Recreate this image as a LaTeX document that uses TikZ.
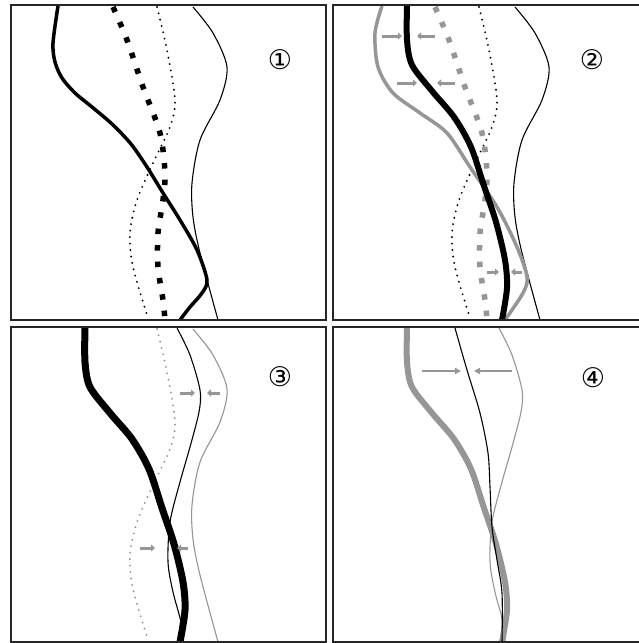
\documentclass[tikz,border=0pt]{standalone}
\usepackage{fontspec}
\newfontfamily\circfont{DejaVu Sans}
\usetikzlibrary{arrows.meta}
\definecolor{lgray}{RGB}{150,150,150}
\tikzset{
  frame/.style={draw=black!85,line width=1.6},
  thinline/.style={line width=1.1},
  thindot/.style={line width=2.1,dash pattern=on 0pt off 6.5pt,line cap=round},
  sqdot/.style={line width=5.5,dash pattern=on 5.5pt off 11pt},
  thickline/.style={line width=3.5},
  vthick/.style={line width=6},
  garrow/.style={draw=lgray,line width=3,-{Triangle[length=4pt,width=7pt]}},
  garrowthin/.style={draw=lgray,line width=2,-{Triangle[length=6pt,width=6pt]}},
  numlabel/.style={font=\circfont\fontsize{27}{27}\selectfont,inner sep=0pt}
}
\def\curveS{(193,7) (213,33) (227,67) (220,100) (200,140) (192,183) (193,217) (200,253) (218,320)}
\def\curveD{(157,7) (167,50) (175,100) (170,127) (153,163) (137,200) (130,233) (133,267) (148,318)}
\def\curveQ{(113,7) (127,40) (143,87) (160,133) (165,173) (163,200) (158,233) (158,267) (163,300) (165,320)}
\def\curveA{(58,6) (53,43) (55,62) (62,78) (75,93) (92,107) (112,124) (131,144) (147,167) (163,193) (180,220) (197,250) (207,280) (202,293) (190,307) (180,320)}
\def\curveG{(60,6) (53,33) (56,67) (71,93) (98,113) (125,133) (148,167) (175,207) (195,247) (205,277) (201,293) (183,320)}
\def\curveB{(85,6) (85,40) (90,65) (110,91) (132,117) (149,147) (162,186) (174,222) (183,260) (185,288) (180,320)}
\def\curveT{(177,6) (190,33) (200,68) (199,90) (190,125) (180,160) (170,200) (168,240) (173,270) (181,300) (183,320)}
\def\curveC{(133,6) (145,48) (158,91) (166,131) (168,165) (170,205) (175,238) (180,271) (180,320)}
\begin{document}
\begin{tikzpicture}[x=1pt,y=-1pt]
\useasboundingbox (0,0) rectangle (639,643);
\clip (0,0) rectangle (639,643);
\fill[white] (0,0) rectangle (639,643);
% ---------- panel 1 ----------
\begin{scope}
  \draw[thinline] plot[smooth] coordinates {\curveS};
  \draw[thindot] plot[smooth] coordinates {\curveD};
  \draw[sqdot] plot[smooth] coordinates {\curveQ};
  \draw[thickline] plot[smooth] coordinates {\curveA};
  \draw[frame] (11,5) rectangle (326,320);
  \node[numlabel] (n1) at (280,60) {①};
\end{scope}
% ---------- panel 2 ----------
\begin{scope}[xshift=322]
  \draw[thinline] plot[smooth] coordinates {\curveS};
  \draw[thindot] plot[smooth] coordinates {\curveD};
  \draw[sqdot,lgray] plot[smooth] coordinates {\curveQ};
  \draw[thickline,lgray] plot[smooth] coordinates {\curveG};
  \draw[vthick] plot[smooth] coordinates {\curveB};
  \coordinate (a1s) at (60,36);  \coordinate (a1e) at (80,36);
  \coordinate (a2s) at (113,36); \coordinate (a2e) at (95,36);
  \coordinate (a3s) at (75,83);  \coordinate (a3e) at (95,83);
  \coordinate (a4s) at (133,83); \coordinate (a4e) at (115,83);
  \coordinate (a5s) at (165,272); \coordinate (a5e) at (177,272);
  \coordinate (a6s) at (200,272); \coordinate (a6e) at (189,272);
  \draw[garrow] (a1s) -- (a1e);
  \draw[garrow] (a2s) -- (a2e);
  \draw[garrow] (a3s) -- (a3e);
  \draw[garrow] (a4s) -- (a4e);
  \draw[garrow] (a5s) -- (a5e);
  \draw[garrow] (a6s) -- (a6e);
  \draw[frame] (11,5) rectangle (326,320);
  \node[numlabel] (n2) at (270,60) {②};
\end{scope}
% ---------- panel 3 ----------
\begin{scope}[yshift=-322]
  \draw[thinline,lgray] plot[smooth] coordinates {\curveS};
  \draw[thindot,lgray] plot[smooth] coordinates {\curveD};
  \draw[thinline] plot[smooth] coordinates {\curveT};
  \draw[line width=7] plot[smooth] coordinates {\curveB};
  \coordinate (b1s) at (180,71);  \coordinate (b1e) at (195,71);
  \coordinate (b2s) at (220,71);  \coordinate (b2e) at (207,71);
  \coordinate (b3s) at (140,226); \coordinate (b3e) at (155,226);
  \coordinate (b4s) at (188,226); \coordinate (b4e) at (177,226);
  \draw[garrow] (b1s) -- (b1e);
  \draw[garrow] (b2s) -- (b2e);
  \draw[garrow] (b3s) -- (b3e);
  \draw[garrow] (b4s) -- (b4e);
  \draw[frame] (11,5) rectangle (326,320);
  \node[numlabel] (n3) at (280,55) {③};
\end{scope}
% ---------- panel 4 ----------
\begin{scope}[xshift=322,yshift=-322]
  \draw[thinline,lgray] plot[smooth] coordinates {\curveT};
  \draw[vthick,lgray] plot[smooth] coordinates {\curveB};
  \draw[thinline] plot[smooth] coordinates {\curveC};
  \coordinate (c1s) at (100,49); \coordinate (c1e) at (139,49);
  \coordinate (c2s) at (190,49); \coordinate (c2e) at (152,49);
  \draw[garrowthin] (c1s) -- (c1e);
  \draw[garrowthin] (c2s) -- (c2e);
  \draw[frame] (11,5) rectangle (326,320);
  \node[numlabel] (n4) at (271,56) {④};
\end{scope}
\end{tikzpicture}
\end{document}
